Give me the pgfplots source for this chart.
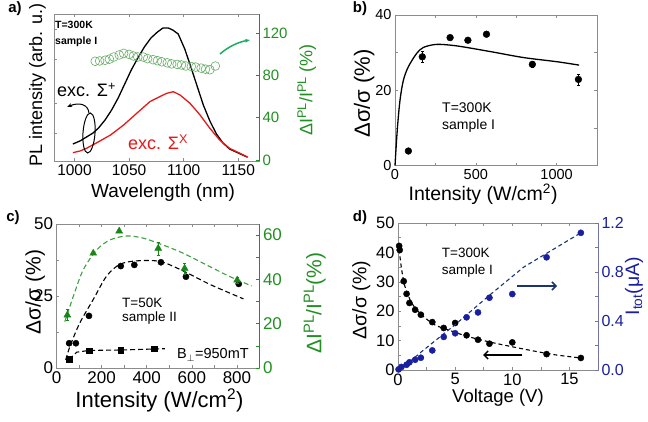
\documentclass[border=0pt]{standalone}
\usepackage{fontspec}
\setmainfont{Liberation Sans}
\usepackage{pgfplots}
\pgfplotsset{compat=1.18}
\usetikzlibrary{arrows.meta}

\definecolor{boxgray}{rgb}{0.55,0.55,0.55}
\definecolor{agreen}{rgb}{0.13,0.56,0.13}
\definecolor{circgreen}{rgb}{0.40,0.68,0.40}
\definecolor{arrgreen}{rgb}{0.10,0.68,0.38}
\definecolor{exred}{rgb}{0.90,0.10,0.10}
\definecolor{trigreen}{rgb}{0.10,0.52,0.10}
\definecolor{fitgreen}{rgb}{0.25,0.62,0.25}
\definecolor{dblue}{rgb}{0.10,0.12,0.62}
\definecolor{navy}{rgb}{0.10,0.20,0.45}
\definecolor{rblue}{rgb}{0.45,0.45,0.65}

\newcommand{\fs}[1]{\fontsize{#1bp}{#1bp}\selectfont}

\pgfplotsset{
  panel/.style={
    scale only axis, anchor=south west, clip=false,
    axis line style={boxgray, line width=0.6bp},
    tick style={boxgray, line width=0.6bp},
    major tick length=3bp, minor tick length=3bp,
    /pgf/number format/assume math mode=true,
    /pgf/number format/set thousands separator={},
  },
}

\begin{document}
\begin{tikzpicture}

% ---------- a) PL spectra ----------
\begin{axis}[panel,
  at={(54.3bp,-161bp)}, width=204.7bp, height=146.7bp,
  xmin=981.5, xmax=1169, ymin=0, ymax=146.7,
  xtick={1000,1050,1100,1150},
  ytick={28,58,102,132}, yticklabels={}, ytick pos=left,
  ticklabel style={font=\fs{15.5}},
  xlabel={Wavelength (nm)},
  ylabel={PL intensity (arb. u.)},
  xlabel style={font=\fs{19}, at={(axis description cs:0.531,-0.215)}, anchor=center},
  ylabel style={font=\fs{18}, at={(axis description cs:-0.082,0.518)}, anchor=center},
]
\addplot[black, line width=1.3bp] coordinates {
  (998.5,17) (1005,20) (1011,24) (1017,28) (1022,33) (1028,41) (1034,51)
  (1040,63) (1046,77) (1052,91) (1058,103) (1064,114) (1070,123) (1076,129)
  (1081,133) (1086,133) (1090,131) (1095,127) (1101,112) (1106,96) (1112,76)
  (1118,56) (1124,40) (1130,27) (1136,18) (1142,12) (1150,8) (1158,4)
};
\addplot[exred, line width=1.3bp] coordinates {
  (998.5,8.3) (1005,10) (1011,12.7) (1020.5,18.3) (1033,26) (1045,36)
  (1057,47.7) (1069,59.3) (1078,64.3) (1084.5,67.7) (1090.5,69.3) (1096.7,66)
  (1105.8,57.7) (1115,46) (1124,32.7) (1133,21) (1142,12.7) (1151.6,7.7) (1159,3.7)
};
\end{axis}
\begin{axis}[panel,
  at={(54.3bp,-161bp)}, width=204.7bp, height=146.7bp,
  xmin=981.5, xmax=1169, ymin=-1, ymax=138,
  axis x line=none, axis y line*=right,
  y axis line style={agreen, line width=0.8bp},
  ytick style={agreen},
  ytick={0,40,80,120},
  yticklabel style={agreen, font=\fs{15}},
  ylabel={ΔI\textsuperscript{PL}/I\textsuperscript{PL} (\%)},
  ylabel style={agreen, font=\fs{18}, at={(axis description cs:1.234,0.484)}, anchor=center},
]
\addplot[only marks, mark=o, mark size=4.4bp, circgreen, mark options={line width=0.6bp}] coordinates {
  (1019,93.5) (1023,93.8) (1028,94.5) (1032,95.5) (1036,97.5) (1041,99.5)
  (1045,101) (1050,100) (1054,98.5) (1058,97.5) (1063,97.5) (1067,96)
  (1072,95) (1076,94) (1080,93) (1085,92) (1089,91) (1094,90.5) (1098,90)
  (1102,89) (1107,88.5) (1111,88) (1116,87) (1120,86) (1124,85.5) (1129,89)
};
\end{axis}

% ---------- b) ----------
\begin{axis}[panel,
  at={(395bp,-165.7bp)}, width=202bp, height=150.7bp,
  xmin=0, xmax=1250, ymin=0, ymax=40,
  xtick={0,500,1000}, minor xtick={250,750,1250},
  ytick={0,20,40}, minor ytick={10,30},
  ticklabel style={font=\fs{14.5}},
  xlabel={Intensity (W/cm\textsuperscript{2})},
  ylabel={Δσ/σ (\%)},
  xlabel style={font=\fs{19.5}, at={(axis description cs:0.436,-0.19)}, anchor=center},
  ylabel style={font=\fs{22}, at={(axis description cs:-0.153,0.479)}, anchor=center},
]
\addplot[black, line width=1.3bp, smooth] coordinates {
  (0,0) (14,9.5) (31,17.4) (52,22.7) (83,26.3) (134,29.8) (176,31.4)
  (258,32.2) (382,31.8) (589,30.3) (796,28.7) (1002,27.6) (1139,26.7)
};
\addplot[only marks, mark=*, mark size=3.4bp, black,
  error bars/.cd, y dir=both, y explicit,
  error bar style={line width=0.5bp}, error mark options={rotate=90, mark size=1.5bp}]
  coordinates {
  (82.7,3.9) +- (0,0) (169,28.9) +- (0,1.4) (341,34) +- (0,0) (451,33.3) +- (0,0)
  (566,34.9) +- (0,0) (850,26.9) +- (0,0.8) (1135,22.9) +- (0,1.4)
};
\end{axis}

% ---------- c) ----------
\begin{axis}[panel,
  at={(56.5bp,-368bp)}, width=203bp, height=144bp,
  xmin=0, xmax=900, ymin=0, ymax=50,
  xtick={0,200,400,600,800}, minor xtick={100,300,500,700},
  ytick={0,25,50}, minor ytick={12.5,37.5}, ytick pos=left,
  ticklabel style={font=\fs{17}},
  xlabel={Intensity (W/cm\textsuperscript{2})},
  ylabel={Δσ/σ (\%)},
  xlabel style={font=\fs{22}, at={(axis description cs:0.507,-0.225)}, anchor=center},
  ylabel style={font=\fs{21}, at={(axis description cs:-0.105,0.528)}, anchor=center},
]
\addplot[black, line width=1.1bp, dash pattern=on 5bp off 3bp, smooth] coordinates {
  (41,2.8) (59,7.4) (103,15.6) (163,23.8) (222,31.9) (281,36) (355,37.2)
  (459,37) (562,33.7) (681,29) (829,24)
};
\addplot[black, line width=1.1bp, dash pattern=on 5bp off 3bp] coordinates {
  (56,3.0) (90,5.5) (144,6.1) (285,6.25) (433,6.6) (480,6.7)
};
\addplot[only marks, mark=*, mark size=3.1bp, black] coordinates {
  (56,8.6) (86,8.6) (144,18.1) (285,35.4) (345,35.8) (463,36.7) (574,31.7) (808,29.2)
};
\addplot[only marks, mark=square*, mark size=2.8bp, black] coordinates {
  (56,3.0) (144,6.0) (285,6.25) (433,6.7)
};
\end{axis}
\begin{axis}[panel,
  at={(56.5bp,-368bp)}, width=203bp, height=144bp,
  xmin=0, xmax=900, ymin=0, ymax=65,
  axis x line=none, axis y line*=right,
  y axis line style={agreen, line width=0.8bp},
  ytick style={agreen},
  ytick={0,20,40,60}, minor ytick={10,30,50},
  yticklabel style={agreen, font=\fs{17}},
  ylabel={ΔI\textsuperscript{PL}/I\textsuperscript{PL}(\%)},
  ylabel style={agreen, font=\fs{21}, at={(axis description cs:1.272,0.451)}, anchor=center},
]
\addplot[fitgreen, line width=1.1bp, dash pattern=on 5bp off 3bp, smooth] coordinates {
  (37,20.9) (74,32.2) (118,44.2) (178,53.3) (237,57.8) (311,59.6) (385,58.6)
  (473,55.5) (562,51.8) (681,45.7) (770,41.2) (866,37)
};
\addplot[only marks, mark=triangle*, mark size=4bp, trigreen,
  error bars/.cd, y dir=both, y explicit,
  error bar style={line width=0.5bp}, error mark options={rotate=90, mark size=1.5bp}]
  coordinates {
  (48,23.9) +- (0,2.5) (163,51.8) +- (0,0) (278,61.8) +- (0,0)
  (451,54) +- (0,3) (568,45) +- (0,2.5) (801,39.7) +- (0,1.2)
};
\end{axis}

% ---------- d) ----------
\begin{axis}[panel,
  at={(398bp,-370bp)}, width=200bp, height=147bp,
  xmin=0, xmax=17.5, ymin=0, ymax=50,
  xtick={0,5,10,15}, minor xtick={2.5,7.5,12.5},
  ytick={0,10,...,50}, minor ytick={5,15,...,45}, ytick pos=left,
  ticklabel style={font=\fs{16.5}},
  xlabel={Voltage (V)},
  ylabel={Δσ/σ (\%)},
  xlabel style={font=\fs{18.5}, at={(axis description cs:0.5,-0.19)}, anchor=center},
  ylabel style={font=\fs{19.5}, at={(axis description cs:-0.183,0.476)}, anchor=center},
]
\addplot[black, line width=1.1bp, dash pattern=on 4bp off 3bp, smooth] coordinates {
  (0.1,41) (0.3,34.7) (0.6,28.5) (1.2,22.8) (2.05,18.8) (3.2,15.4) (4.36,13.7)
  (6.1,11.4) (8.4,9.2) (11.3,6.9) (13.7,5.2) (16,4.1)
};
\addplot[only marks, mark=*, mark size=3.1bp, black] coordinates {
  (0.1,42.2) (0.15,40.8) (0.5,30.2) (0.75,25.9) (1,22.8) (1.5,20.5) (2,18.8)
  (3,16.3) (4,14.3) (5,16.0) (6,11.8) (7,10.3) (8,8.95) (10,9.4) (13,5.4) (16,4.1)
};
\end{axis}
\begin{axis}[panel,
  at={(398bp,-370bp)}, width=200bp, height=147bp,
  xmin=0, xmax=17.5, ymin=0, ymax=1.2,
  axis x line=none, axis y line*=right,
  y axis line style={rblue, line width=0.8bp},
  ytick style={rblue},
  ytick={0,0.4,0.8,1.2}, yticklabels={0.0,0.4,0.8,1.2},
  minor ytick={0.2,0.6,1.0},
  yticklabel style={dblue, font=\fs{16}},
  ylabel={I\textsubscript{tot}(μA)},
  ylabel style={dblue, font=\fs{19.5}, at={(axis description cs:1.18,0.571)}, anchor=center},
]
\addplot[navy, line width=1.1bp, dash pattern=on 4bp off 3bp] coordinates {
  (0,0) (1,0.065) (2,0.145) (3,0.22) (5,0.37) (8,0.61) (11,0.84) (16,1.12)
};
\addplot[only marks, mark=*, mark size=3.1bp, dblue] coordinates {
  (0.05,0.005) (0.3,0.025) (0.75,0.043) (1,0.063) (1.5,0.084) (2,0.10)
  (3,0.16) (4,0.27) (5,0.30) (6,0.43) (7,0.47) (8,0.59) (10,0.62) (13,0.92) (16,1.12)
};
\end{axis}

% ---------- annotations ----------
\node[font=\bfseries\fs{15}] at (15bp,-9bp) {a)};
\node[font=\bfseries\fs{15}] at (360bp,-9bp) {b)};
\node[font=\bfseries\fs{15}] at (13bp,-218bp) {c)};
\node[font=\bfseries\fs{15}] at (360bp,-218bp) {d)};

\node[font=\bfseries\fs{10.5}, anchor=west, inner sep=0pt] at (55bp,-25bp) {T=300K};
\node[font=\bfseries\fs{10.5}, anchor=west, inner sep=0pt] at (55bp,-42bp) {sample I};
\node[font=\fs{18}, anchor=west, inner sep=0pt] at (57bp,-90bp) {exc. Σ\textsuperscript{+}};
\node[font=\fs{18}, anchor=west, inner sep=0pt, exred] at (128bp,-142bp) {exc. Σ\textsuperscript{X}};
\draw[line width=1bp, rotate around={-4:(89bp,-133bp)}] (89bp,-133bp) ellipse [x radius=6bp, y radius=20bp];
\draw[line width=1bp, -{Stealth[length=5bp]}] (89bp,-113bp) .. controls (88bp,-104bp) and (79bp,-102bp) .. (67bp,-107bp);
\draw[arrgreen, line width=1.5bp, -{Stealth[length=5bp]}] (220bp,-54bp) .. controls (228bp,-47bp) and (238bp,-42bp) .. (250bp,-40bp);

\node[font=\fs{14}, anchor=west, inner sep=0pt] at (442bp,-108bp) {T=300K};
\node[font=\fs{14}, anchor=west, inner sep=0pt] at (442bp,-126bp) {sample I};

\node[font=\fs{13.5}, anchor=west, inner sep=0pt] at (122bp,-303bp) {T=50K};
\node[font=\fs{13.5}, anchor=west, inner sep=0pt] at (122bp,-318bp) {sample II};
\node[font=\fs{14.5}, anchor=west, inner sep=0pt] at (177bp,-355bp) {B$_\perp$=950mT};

\node[font=\fs{13.5}, anchor=west, inner sep=0pt] at (441.7bp,-252.5bp) {T=300K};
\node[font=\fs{13.5}, anchor=west, inner sep=0pt] at (441.7bp,-271.5bp) {sample I};
\draw[navy, line width=1.5bp, -{Straight Barb[length=4bp, width=8bp]}] (517bp,-286bp) -- (557bp,-286bp);
\draw[black, line width=1.5bp, -{Straight Barb[length=4bp, width=8bp]}] (522bp,-355bp) -- (483bp,-355bp);

\pgfresetboundingbox
\path (0bp,0bp) rectangle (648bp,-422bp);
\end{tikzpicture}
\end{document}
